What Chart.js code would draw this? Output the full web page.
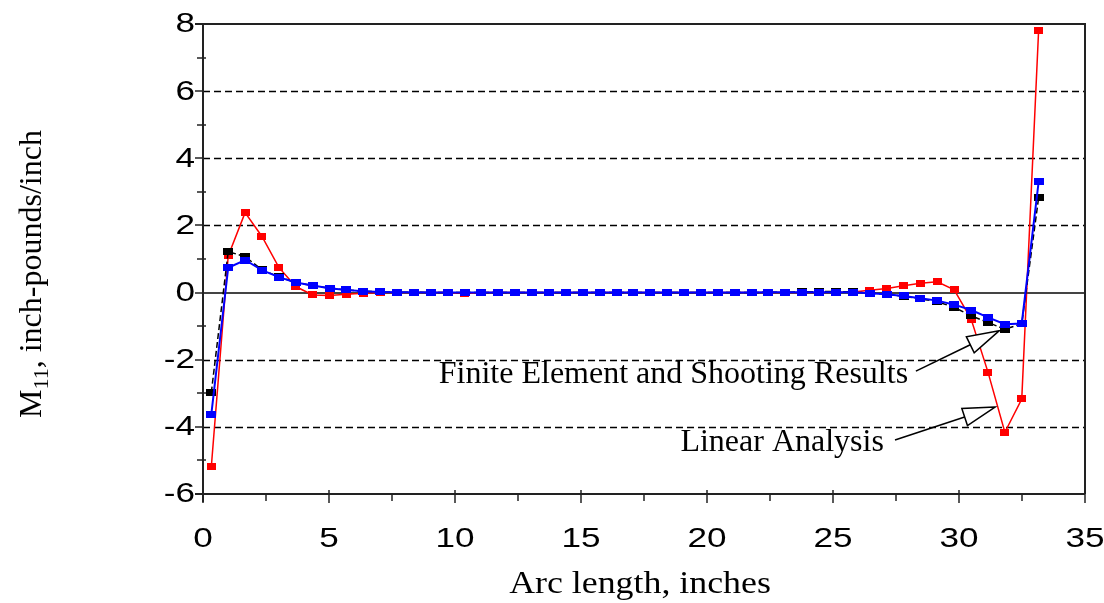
<!DOCTYPE html>
<html>
<head>
<meta charset="utf-8">
<script src="https://cdn.jsdelivr.net/npm/chart.js@4.4.0/dist/chart.umd.min.js"></script>
<style>
  html, body { margin: 0; padding: 0; background: #fff; }
  #wrap { width: 1104px; height: 603px; position: relative; }
</style>
</head>
<body>
<div id="wrap"><canvas id="momentChart"></canvas></div>
<script>
// arc length along the shell (inches)
const arcLength = [0.33, 1.00, 1.67, 2.34, 3.01, 3.68, 4.35, 5.02, 5.69, 6.36,
  7.03, 7.70, 8.37, 9.04, 9.71, 10.38, 11.05, 11.72, 12.39, 13.06,
  13.73, 14.40, 15.07, 15.74, 16.41, 17.08, 17.75, 18.42, 19.09, 19.76,
  20.43, 21.10, 21.77, 22.44, 23.11, 23.78, 24.45, 25.12, 25.79, 26.46,
  27.13, 27.80, 28.47, 29.14, 29.81, 30.48, 31.15, 31.82, 32.49, 33.16];

// M11 (inch-pounds/inch)
const shooting = [-3.63, 0.74, 0.97, 0.67, 0.46, 0.30, 0.21, 0.13, 0.08, 0.04,
  0.02, 0.01, 0.01, 0.00, 0.00, 0.00, 0.00, 0.00, 0.00, 0.00,
  0.00, 0.00, 0.00, 0.00, 0.00, 0.00, 0.00, 0.00, 0.00, 0.00,
  0.00, 0.00, 0.00, 0.01, 0.01, 0.01, 0.01, 0.01, 0.01, -0.02,
  -0.05, -0.10, -0.17, -0.24, -0.36, -0.52, -0.74, -0.94, -0.92, 3.30];

const finiteElement = [-2.98, 1.22, 1.07, 0.68, 0.47, 0.30, 0.21, 0.13, 0.08, 0.04,
  0.02, 0.01, 0.01, 0.00, 0.00, 0.00, 0.00, 0.00, 0.00, 0.00,
  0.00, 0.00, 0.00, 0.00, 0.00, 0.00, 0.00, 0.00, 0.00, 0.00,
  0.00, 0.00, 0.00, 0.01, 0.01, 0.02, 0.03, 0.03, 0.02, -0.02,
  -0.05, -0.11, -0.19, -0.27, -0.44, -0.69, -0.89, -1.09, -0.93, 2.83];

const linearAnalysis = [-5.19, 1.09, 2.38, 1.67, 0.75, 0.18, -0.07, -0.09, -0.05, -0.02,
  0.00, 0.00, 0.00, 0.00, 0.00, -0.03, 0.00, 0.00, 0.00, 0.00,
  0.00, 0.00, 0.00, 0.00, 0.00, 0.00, 0.00, 0.00, 0.00, 0.00,
  0.00, 0.00, 0.00, 0.00, 0.00, 0.00, 0.00, 0.01, 0.02, 0.07,
  0.12, 0.20, 0.28, 0.32, 0.08, -0.79, -2.37, -4.16, -3.17, 7.82];

const xTickValues = [0, 5, 10, 15, 20, 25, 30, 35];
const yTickValues = [-6, -4, -2, 0, 2, 4, 6, 8];
const dashedLevels = [-4, -2, 2, 4, 6];

// callouts: text anchored at its right end, arrow from tail to tip (data units)
const callouts = [
  { text: 'Finite Element and Shooting Results', at: [27.98, -2.69], tail: [28.29, -2.34], tip: [31.59, -1.14] },
  { text: 'Linear Analysis', at: [27.02, -4.72], tail: [27.46, -4.39], tip: [31.43, -3.41] }
];

function toPoints(ys) {
  return arcLength.map((x, i) => ({ x: x, y: ys[i] }));
}

// small filled rectangles used as point markers
function marker(color, w, h) {
  const c = document.createElement('canvas');
  c.width = w; c.height = h;
  const g = c.getContext('2d');
  g.fillStyle = color;
  g.fillRect(0, 0, w, h);
  return c;
}

const serif = '"Liberation Serif", "Times New Roman", serif';
const sans = '"Liberation Sans", Arial, sans-serif';
const AXIS = '#222';

// text squeezed/stretched horizontally around its anchor
function wideText(ctx, str, x, y, sx) {
  ctx.save();
  ctx.translate(x, y);
  ctx.scale(sx, 1);
  ctx.fillText(str, 0, 0);
  ctx.restore();
}

const framePlugin = {
  id: 'frame',
  beforeDatasetsDraw(chart) {
    const { ctx, chartArea: a, scales: { x, y } } = chart;
    ctx.save();

    // dashed levels
    ctx.strokeStyle = '#000';
    ctx.lineWidth = 1.4;
    ctx.setLineDash([7, 4]);
    dashedLevels.forEach(v => {
      const py = Math.round(y.getPixelForValue(v)) + 0.5;
      ctx.beginPath();
      ctx.moveTo(a.left, py);
      ctx.lineTo(a.right, py);
      ctx.stroke();
    });
    ctx.setLineDash([]);

    // zero line
    ctx.strokeStyle = '#444';
    ctx.lineWidth = 2;
    const zy = Math.round(y.getPixelForValue(0));
    ctx.beginPath();
    ctx.moveTo(a.left, zy);
    ctx.lineTo(a.right, zy);
    ctx.stroke();

    // frame and axes
    ctx.strokeStyle = AXIS;
    ctx.lineWidth = 2;
    ctx.beginPath();
    ctx.moveTo(a.left - 8, a.top);
    ctx.lineTo(a.right, a.top);
    ctx.lineTo(a.right, a.bottom);
    ctx.moveTo(a.left - 8, a.bottom);
    ctx.lineTo(a.right, a.bottom);
    ctx.moveTo(a.left, a.top);
    ctx.lineTo(a.left, a.bottom + 8);
    ctx.stroke();

    // y ticks: major outward, minor across the axis
    ctx.lineWidth = 1.5;
    for (let v = y.min; v <= y.max; v += 1) {
      const py = Math.round(y.getPixelForValue(v));
      ctx.beginPath();
      if (v % 2 === 0) {
        ctx.moveTo(a.left - 8, py);
        ctx.lineTo(a.left, py);
      } else {
        ctx.moveTo(a.left - 6, py);
        ctx.lineTo(a.left + 3, py);
      }
      ctx.stroke();
    }
    // x ticks
    for (let v = x.min; v <= x.max; v += 2.5) {
      const px = Math.round(x.getPixelForValue(v));
      ctx.beginPath();
      if (v % 5 === 0) {
        ctx.moveTo(px, a.bottom - 4);
        ctx.lineTo(px, a.bottom + 9);
      } else {
        ctx.moveTo(px, a.bottom);
        ctx.lineTo(px, a.bottom + 7);
      }
      ctx.stroke();
    }
    ctx.restore();
  },
  afterDraw(chart) {
    const { ctx, chartArea: a, scales: { x, y } } = chart;
    ctx.save();
    ctx.fillStyle = '#000';
    ctx.strokeStyle = '#000';

    // tick labels (wide sans digits)
    ctx.font = '27px ' + sans;
    ctx.textBaseline = 'middle';
    ctx.textAlign = 'right';
    yTickValues.forEach(v => wideText(ctx, String(v), a.left - 8, y.getPixelForValue(v) + 1, 1.3));
    ctx.textAlign = 'center';
    xTickValues.forEach(v => wideText(ctx, String(v), x.getPixelForValue(v), a.bottom + 46, 1.3));

    // callouts
    ctx.font = '32px ' + serif;
    ctx.textAlign = 'right';
    ctx.textBaseline = 'alphabetic';
    callouts.forEach(c => {
      ctx.fillText(c.text, x.getPixelForValue(c.at[0]), y.getPixelForValue(c.at[1]));
      const tx = x.getPixelForValue(c.tail[0]), ty = y.getPixelForValue(c.tail[1]);
      const hx = x.getPixelForValue(c.tip[0]), hy = y.getPixelForValue(c.tip[1]);
      const ang = Math.atan2(hy - ty, hx - tx);
      const len = 32, half = 9;
      const bx = hx - len * Math.cos(ang), by = hy - len * Math.sin(ang);
      ctx.lineWidth = 1.5;
      ctx.beginPath();
      ctx.moveTo(tx, ty);
      ctx.lineTo(bx, by);
      ctx.stroke();
      ctx.beginPath();
      ctx.moveTo(hx, hy);
      ctx.lineTo(bx + half * Math.sin(ang), by - half * Math.cos(ang));
      ctx.lineTo(bx - half * Math.sin(ang), by + half * Math.cos(ang));
      ctx.closePath();
      ctx.fillStyle = '#fff';
      ctx.fill();
      ctx.stroke();
      ctx.fillStyle = '#000';
    });

    // x title
    ctx.textAlign = 'center';
    ctx.font = '32px ' + serif;
    wideText(ctx, 'Arc length, inches', (a.left + a.right) / 2 - 4, 593, 1.12);

    // y title with subscript
    ctx.translate(41, (a.top + a.bottom) / 2 + 15);
    ctx.rotate(-Math.PI / 2);
    ctx.textAlign = 'left';
    const big = '32px ' + serif, small = '22px ' + serif;
    const rest = ', inch-pounds/inch';
    ctx.font = big;
    const wM = ctx.measureText('M').width, wR = ctx.measureText(rest).width;
    ctx.font = small;
    const wS = ctx.measureText('11').width;
    let cx = -(wM + wS + wR) / 2;
    ctx.font = big;
    ctx.fillText('M', cx, 0);
    cx += wM;
    ctx.font = small;
    ctx.fillText('11', cx, 7);
    cx += wS;
    ctx.font = big;
    ctx.fillText(rest, cx, 0);
    ctx.restore();
  }
};

new Chart(document.getElementById('momentChart'), {
  type: 'line',
  data: {
    datasets: [
      {
        label: 'Shooting',
        data: toPoints(shooting),
        borderColor: '#0000ff',
        borderWidth: 2,
        pointStyle: marker('#0000ff', 10, 7),
        pointRadius: 5,
        tension: 0
      },
      {
        label: 'Finite Element',
        data: toPoints(finiteElement),
        borderColor: '#000',
        borderWidth: 1.5,
        borderDash: [6, 3],
        pointStyle: marker('#000', 10, 7),
        pointRadius: 5,
        tension: 0
      },
      {
        label: 'Linear Analysis',
        data: toPoints(linearAnalysis),
        borderColor: '#ff0000',
        borderWidth: 1.5,
        pointStyle: marker('#ff0000', 9, 7),
        pointRadius: 5,
        tension: 0
      }
    ]
  },
  options: {
    responsive: true,
    maintainAspectRatio: false,
    animation: false,
    events: [],
    layout: { padding: { top: 24, right: 19, left: 0, bottom: 0 } },
    plugins: {
      legend: { display: false },
      tooltip: { enabled: false }
    },
    scales: {
      x: {
        type: 'linear',
        min: 0,
        max: 35,
        afterBuildTicks: s => { s.ticks = xTickValues.map(v => ({ value: v })); },
        afterFit: s => { s.height = 109; s.paddingLeft = 0; s.paddingRight = 0; },
        grid: { display: false, drawTicks: false },
        border: { display: false },
        ticks: { display: false }
      },
      y: {
        type: 'linear',
        min: -6,
        max: 8,
        afterBuildTicks: s => { s.ticks = yTickValues.map(v => ({ value: v })); },
        afterFit: s => { s.width = 203; s.paddingTop = 0; s.paddingBottom = 0; },
        grid: { display: false, drawTicks: false },
        border: { display: false },
        ticks: { display: false }
      }
    }
  },
  plugins: [framePlugin]
});
</script>
</body>
</html>
